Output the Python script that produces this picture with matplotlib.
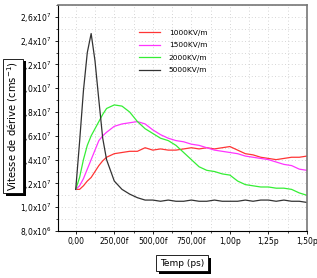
import matplotlib.pyplot as plt
import matplotlib.patheffects as pe
from matplotlib.ticker import FixedLocator, FixedFormatter, MultipleLocator

# temps (ps)
t = [0, .025, .05, .075, .1, .125, .15, .175, .2, .25, .3, .35, .4, .45, .5, .55, .6,
     .65, .7, .75, .8, .85, .9, .95, 1.0, 1.05, 1.1, 1.15, 1.2, 1.25, 1.3, 1.35, 1.4, 1.45, 1.5]

# vitesse de derive (x1e7 cm/s)
v1000 = [1.15, 1.15, 1.18, 1.22, 1.25, 1.30, 1.35, 1.39, 1.42, 1.45, 1.46, 1.47, 1.47, 1.50,
         1.48, 1.49, 1.48, 1.48, 1.49, 1.50, 1.49, 1.50, 1.49, 1.50, 1.51, 1.48, 1.45, 1.44,
         1.42, 1.41, 1.40, 1.41, 1.42, 1.42, 1.43]
v1500 = [1.15, 1.18, 1.24, 1.32, 1.40, 1.48, 1.56, 1.60, 1.63, 1.68, 1.70, 1.71, 1.72, 1.70,
         1.65, 1.61, 1.58, 1.56, 1.55, 1.53, 1.52, 1.50, 1.48, 1.47, 1.46, 1.45, 1.43, 1.42,
         1.41, 1.40, 1.38, 1.36, 1.35, 1.32, 1.31]
v2000 = [1.15, 1.25, 1.40, 1.52, 1.60, 1.66, 1.72, 1.78, 1.83, 1.86, 1.85, 1.80, 1.72, 1.66,
         1.62, 1.58, 1.56, 1.52, 1.46, 1.40, 1.34, 1.31, 1.30, 1.28, 1.27, 1.22, 1.19, 1.18,
         1.17, 1.17, 1.16, 1.16, 1.15, 1.12, 1.10]
v5000 = [1.15, 1.55, 1.98, 2.30, 2.46, 2.23, 1.90, 1.58, 1.40, 1.22, 1.15, 1.11, 1.08, 1.06,
         1.06, 1.05, 1.06, 1.05, 1.05, 1.06, 1.05, 1.05, 1.06, 1.05, 1.05, 1.05, 1.06, 1.05,
         1.06, 1.06, 1.05, 1.06, 1.05, 1.05, 1.04]

labels = ['1000KV/m', '1500KV/m', '2000KV/m', '5000KV/m']
colors = ['#ff3535', '#ff35ff', '#35ee35', '#333333']

xticks = [0, 0.25, 0.5, 0.75, 1.0, 1.25, 1.5]
xticklabels = ['0,00', '250,00f', '500,00f', '750,00f', '1,00p', '1,25p', '1,50p']
yticks = [0.8, 1.0, 1.2, 1.4, 1.6, 1.8, 2.0, 2.2, 2.4, 2.6]
yticklabels = ['8,0x10$^6$'] + ['%sx10$^7$' % ('%.1f' % v).replace('.', ',') for v in yticks[1:]]

fig = plt.figure(figsize=(3.17, 2.78), dpi=100)
ax = fig.add_axes([58/317, 47/278, 249/317, 226/278])

for y, lab, c in zip([v1000, v1500, v2000, v5000], labels, colors):
    ax.plot(t, y, color=c, lw=0.9, label=lab)

ax.set_xlim(-0.115, 1.5)
ax.set_ylim(0.8, 2.7)
ax.xaxis.set_major_locator(FixedLocator(xticks))
ax.xaxis.set_major_formatter(FixedFormatter(xticklabels))
ax.xaxis.set_minor_locator(MultipleLocator(0.125))
ax.yaxis.set_major_locator(FixedLocator(yticks))
ax.yaxis.set_major_formatter(FixedFormatter(yticklabels))
ax.yaxis.set_minor_locator(MultipleLocator(0.1))
ax.tick_params(labelsize=5.5, length=2.5, width=0.6, pad=2)
ax.tick_params(which='minor', length=1.5, width=0.5)
ax.grid(True, which='both', color='#c8c8c8', ls=(0, (1, 3)), lw=0.6)

for s in ['left', 'bottom']:
    ax.spines[s].set_color('black')
    ax.spines[s].set_linewidth(0.8)
for s in ['top', 'right']:
    ax.spines[s].set_color('#777777')
    ax.spines[s].set_linewidth(1.2)

ax.legend(loc='upper left', bbox_to_anchor=(0.3, 0.92), frameon=False, fontsize=5.3,
          handlelength=2.8, labelspacing=0.85, handletextpad=1.2)

shadow = [pe.withSimplePatchShadow(offset=(2, -2), shadow_rgbFace='black', alpha=1)]
ty = fig.text(13/317, 1 - 126/278, 'Vitesse de dérive (cms$^{-1}$)', rotation=90,
              ha='center', va='center', fontsize=7.2,
              bbox=dict(boxstyle='square,pad=0.25', fc='white', ec='black', lw=0.6))
ty.get_bbox_patch().set_path_effects(shadow)
tx = fig.text(182/317, 1 - 263/278, 'Temp (ps)', ha='center', va='center', fontsize=6.5,
              bbox=dict(boxstyle='square,pad=0.4', fc='white', ec='black', lw=0.6))
tx.get_bbox_patch().set_path_effects(shadow)

fig.savefig('out.png', dpi=100)
